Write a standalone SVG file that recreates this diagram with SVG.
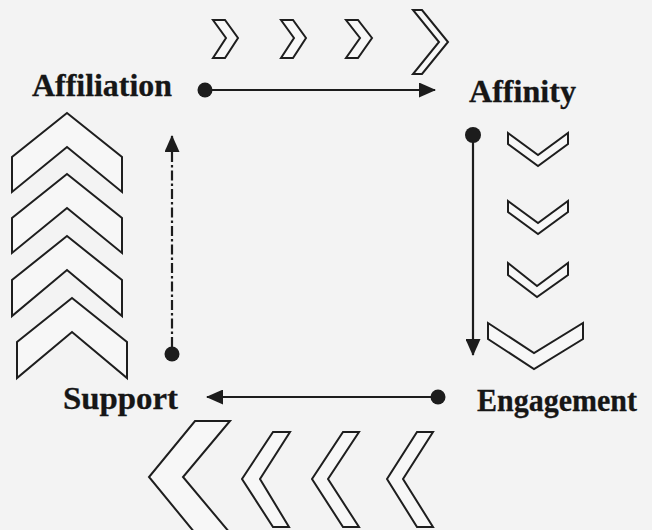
<svg xmlns="http://www.w3.org/2000/svg" width="652" height="530" viewBox="0 0 652 530">
  <defs>
    <marker id="head" markerUnits="userSpaceOnUse" markerWidth="17" markerHeight="15" refX="16" refY="7.5" orient="auto">
      <path d="M0,0 L17,7.5 L0,15 z" fill="#1c1c1c"/>
    </marker>
    <style>
      .label { font-family: "Liberation Serif", "Times New Roman", serif; font-weight: bold; font-size: 32px; fill: #161616; stroke: #161616; stroke-width: 0.3; }
      .chev { fill: #ffffff; fill-opacity: 0.35; stroke: #1e1e1e; stroke-width: 2; stroke-linejoin: miter; }
      .flow { fill: none; stroke: #1c1c1c; stroke-width: 2.2; }
      .dot { fill: #1c1c1c; }
    </style>
  </defs>

  <!-- page background -->
  <rect width="652" height="530" fill="#f3f3f3"/>

  <!-- chevrons above the top connector, pointing right -->
  <g id="chevrons-top">
    <polygon class="chev" points="213,20 225,20 238,38 225,58 213,58 226,38"/>
    <polygon class="chev" points="281,20 293,20 306,38 293,58 281,58 294,38"/>
    <polygon class="chev" points="346,20 358,20 372,38 358,58 346,58 360,38"/>
    <polygon class="chev" points="413,10 422,10 448,42 422,74 413,74 439,42"/>
  </g>

  <!-- chevrons beside the right connector, pointing down -->
  <g id="chevrons-right">
    <polygon class="chev" points="508,133 538,155 568,133 568,144 538,166 508,144"/>
    <polygon class="chev" points="508,201 538,223 568,201 568,212 538,234 508,212"/>
    <polygon class="chev" points="508,263 537,286 568,263 568,275 537,297 508,275"/>
    <polygon class="chev" points="488,323 534,353 583,323 583,339 534,369 488,339"/>
  </g>

  <!-- chevrons below the bottom connector, pointing left -->
  <g id="chevrons-bottom">
    <polygon class="chev" points="195,421 230,421 183,477 230,533 195,533 149,477"/>
    <polygon class="chev" points="273,432 290,432 260,479 289,527 273,527 242,479"/>
    <polygon class="chev" points="343,432 359,432 328,479 359,527 343,527 312,479"/>
    <polygon class="chev" points="417,432 433,432 403,479 433,527 417,527 387,479"/>
  </g>

  <!-- chevrons beside the left connector, pointing up -->
  <g id="chevrons-left">
    <polygon class="chev" points="67,113 122,157 122,192 67,147 12,192 12,157"/>
    <polygon class="chev" points="67,174 122,218 122,253 67,208 12,253 12,218"/>
    <polygon class="chev" points="67,236 122,280 122,316 67,270 12,316 12,280"/>
    <polygon class="chev" points="72,298 127,342 127,378 72,332 17,378 17,342"/>
  </g>

  <!-- connectors of the cycle -->
  <g id="connectors">
    <line class="flow" x1="205" y1="90" x2="435" y2="90" marker-end="url(#head)"/>
    <circle class="dot" cx="205" cy="90" r="7.5"/>

    <line class="flow" x1="473" y1="135" x2="473" y2="355" marker-end="url(#head)"/>
    <circle class="dot" cx="473" cy="135" r="8"/>

    <line class="flow" x1="438" y1="397" x2="207" y2="397" marker-end="url(#head)"/>
    <circle class="dot" cx="438" cy="397" r="7.5"/>

    <line class="flow" x1="172" y1="347" x2="172" y2="136" stroke-width="3" stroke-dasharray="10 3 2.5 3" marker-end="url(#head)"/>
    <circle class="dot" cx="172" cy="354" r="7.5"/>
  </g>

  <!-- stage labels -->
  <g id="node-affiliation">
    <text class="label" x="32" y="96" textLength="140" lengthAdjust="spacingAndGlyphs">Affiliation</text>
  </g>
  <g id="node-affinity">
    <text class="label" x="469" y="102" textLength="107" lengthAdjust="spacingAndGlyphs">Affinity</text>
  </g>
  <g id="node-engagement">
    <text class="label" x="477" y="411" textLength="160" lengthAdjust="spacingAndGlyphs">Engagement</text>
  </g>
  <g id="node-support">
    <text class="label" x="63" y="409" textLength="115" lengthAdjust="spacingAndGlyphs">Support</text>
  </g>
</svg>
